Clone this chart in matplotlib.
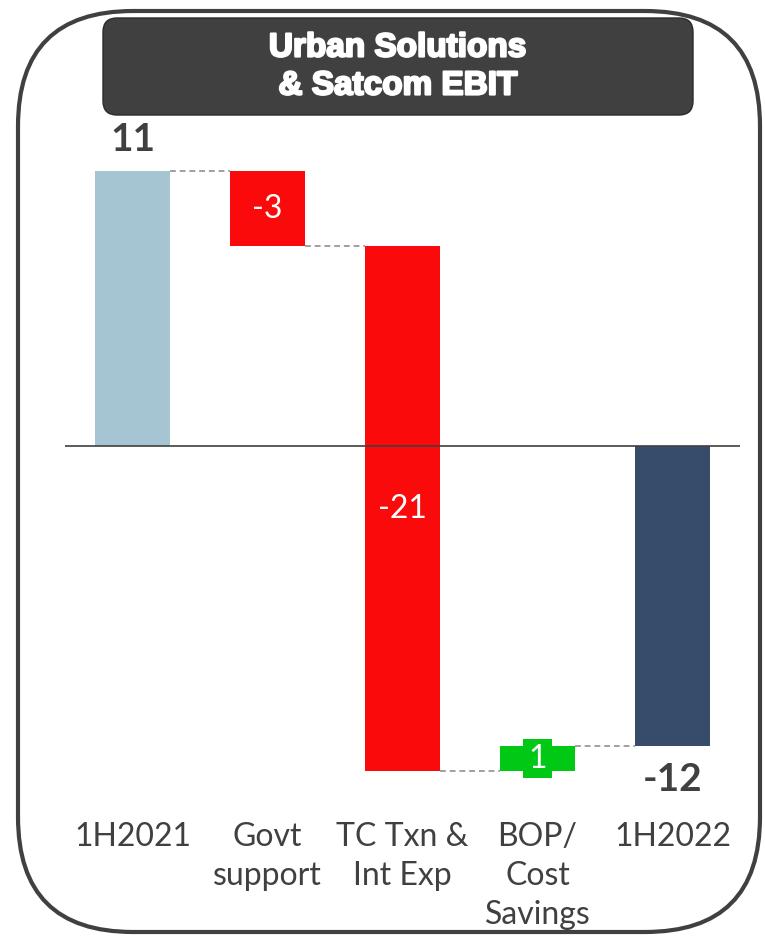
import matplotlib
matplotlib.use('Agg')
import matplotlib.pyplot as plt
import matplotlib.patheffects as pe
from matplotlib.patches import FancyBboxPatch
import numpy as np

# waterfall data (S$m)
categories = ['1H2021', 'Govt\nsupport', 'TC Txn &\nInt Exp', 'BOP/\nCost\nSavings', '1H2022']
start_value = 11
deltas = [-3, -21, 1]
end_value = -12
delta_labels = ['-3', '-21', '1']
title_lines = ['Urban Solutions', '& Satcom EBIT']

c_start = '#A5C5D2'
c_end = '#374C6A'
c_down = '#FA0A0A'
c_up = '#00C815'
c_text = '#404040'

fig = plt.figure(figsize=(7.65, 9.36), dpi=100)

# background layer in pixel units for the frame and title box
bg = fig.add_axes([0, 0, 1, 1])
bg.set_xlim(0, 765)
bg.set_ylim(936, 0)
bg.axis('off')
frame = FancyBboxPatch((18, 11), 742, 921, boxstyle='round,pad=0,rounding_size=115',
                       fc='white', ec='#404040', lw=3)
bg.add_patch(frame)
tbox = FancyBboxPatch((103, 18), 590, 97, boxstyle='round,pad=0,rounding_size=14',
                      fc='#404040', ec='#2a2a2a', lw=1)
bg.add_patch(tbox)
for i, line in enumerate(title_lines):
    bg.text(398, 48 + 38 * i, line, ha='center', va='center', color='white',
            fontsize=24, fontweight='bold', family=['Liberation Sans', 'DejaVu Sans'],
            path_effects=[pe.withStroke(linewidth=1.6, foreground='white')])

# main chart
ax = fig.add_axes([65 / 765, (936 - 800) / 936, 675 / 765, 650 / 936])
ax.patch.set_alpha(0)
ax.set_xlim(-0.5, 4.5)
ax.set_ylim(-14.16, 11.84)

x = np.arange(len(categories))
w = 0.56

# running totals
levels = [start_value]
for d in deltas:
    levels.append(levels[-1] + d)

ax.bar(x[0], start_value, w, color=c_start, zorder=3)
for k, d in enumerate(deltas):
    ax.bar(x[k + 1], d, w, bottom=levels[k], color=c_down if d < 0 else c_up, zorder=3)
ax.bar(x[-1], end_value, w, color=c_end, zorder=3)

# connectors
conn = levels[:]  # level after each bar 0..3
for i in range(len(conn)):
    ax.plot([x[i] + w / 2, x[i + 1] - w / 2], [conn[i], conn[i]], color='#A0A0A0',
            lw=1.4, dashes=(3, 2), zorder=2)

ax.axhline(0, color='#404040', lw=1.2, zorder=4)

# labels
lab_font = ['Lato', 'DejaVu Sans']
ax.annotate(str(start_value), (x[0], start_value), xytext=(0, 23), textcoords='offset points',
            ha='center', va='center', fontsize=28, fontweight='bold', color=c_text, family=lab_font)
ax.annotate(str(end_value), (x[-1], end_value), xytext=(0, -24), textcoords='offset points',
            ha='center', va='center', fontsize=28, fontweight='bold', color=c_text, family=lab_font)
for k, d in enumerate(deltas):
    mid = levels[k] + d / 2
    if d > 0:
        ax.text(x[k + 1], mid, delta_labels[k], ha='center', va='center', fontsize=23,
                color='white', family=lab_font, zorder=5,
                bbox=dict(boxstyle='square,pad=0.15', fc=c_up, ec='none'))
    else:
        ax.text(x[k + 1], mid, delta_labels[k], ha='center', va='center', fontsize=23,
                color='white', family=lab_font, zorder=5)

ax.set_xticks(x)
ax.set_xticklabels(categories, fontsize=23, color=c_text, family=lab_font, linespacing=1.36)
ax.tick_params(axis='x', length=0, pad=16)
ax.set_yticks([])
for s in ax.spines.values():
    s.set_visible(False)

fig.savefig('out.png', dpi=100)
